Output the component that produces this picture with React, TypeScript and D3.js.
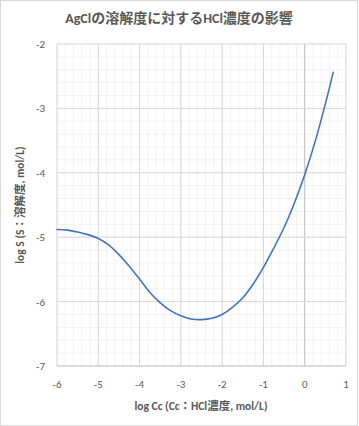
import React from "react";
import * as d3 from "d3";

const logCc = [-6, -5.75, -5.5, -5.25, -5, -4.75, -4.5, -4.25, -4, -3.75, -3.5, -3.25, -3, -2.75, -2.5, -2.25, -2, -1.75, -1.5, -1.25, -1, -0.75, -0.5, -0.25, 0, 0.25, 0.5, 0.69];
const logS = [-4.88, -4.89, -4.92, -4.96, -5.02, -5.12, -5.27, -5.45, -5.65, -5.86, -6.02, -6.14, -6.22, -6.27, -6.28, -6.26, -6.2, -6.09, -5.94, -5.73, -5.47, -5.17, -4.85, -4.47, -4.03, -3.52, -2.93, -2.44];
const xTicks = [-6, -5, -4, -3, -2, -1, 0, 1];
const yTicks = [-7, -6, -5, -4, -3, -2];
const title = "AgClの溶解度に対するHCl濃度の影響";
const xTitle = "log Cc (Cc：HCl濃度, mol/L)";
const yTitle = "log S (S：溶解度, mol/L)";

export default function App() {
  const W = 359, H = 426;
  const m = { l: 57, r: 346, t: 44, b: 366 };
  const x = d3.scaleLinear().domain([-6, 1]).range([m.l, m.r]);
  const y = d3.scaleLinear().domain([-7, -2]).range([m.b, m.t]);
  const minorX = d3.range(-6, 1.0001, 0.2);
  const minorY = d3.range(-7, -1.9999, 0.2);
  const pts = logCc.map((v, i) => [v, logS[i]] as [number, number]);
  const line = d3.line<[number, number]>().x(d => x(d[0])).y(d => y(d[1])).curve(d3.curveCatmullRom.alpha(0.5));
  const font = "Calibri, 'Noto Sans CJK JP', 'Noto Sans', sans-serif";
  return (
    <svg width={W} height={H} style={{ position: "absolute", left: 0, top: 0, fontFamily: font }}>
      <rect x={0.5} y={0.5} width={357} height={425} fill="#fff" stroke="#d9d9d9" />
      {minorX.map((v, i) => (
        <line key={"mx" + i} x1={x(v)} x2={x(v)} y1={m.t} y2={m.b} stroke="#f2f2f2" />
      ))}
      {minorY.map((v, i) => (
        <line key={"my" + i} x1={m.l} x2={m.r} y1={y(v)} y2={y(v)} stroke="#f2f2f2" />
      ))}
      {xTicks.map(v => (
        <line key={"gx" + v} x1={x(v)} x2={x(v)} y1={m.t} y2={m.b} stroke={v === 0 ? "#bfbfbf" : "#d9d9d9"} />
      ))}
      {yTicks.map(v => (
        <line key={"gy" + v} x1={m.l} x2={m.r} y1={y(v)} y2={y(v)} stroke={v === -7 ? "#bfbfbf" : "#d9d9d9"} />
      ))}
      <path d={line(pts) || ""} fill="none" stroke="#4472c4" strokeWidth={1.6} strokeLinejoin="round" strokeLinecap="round" />
      {xTicks.map(v => (
        <text key={"tx" + v} x={x(v)} y={388} textAnchor="middle" fontSize={11} fill="#595959">{v}</text>
      ))}
      {yTicks.map(v => (
        <text key={"ty" + v} x={45} y={y(v) + 4} textAnchor="end" fontSize={11} fill="#595959">{v}</text>
      ))}
      <text x={179} y={23} textAnchor="middle" fontSize={14} fontWeight="bold" fill="#595959">{title}</text>
      <text x={201} y={410} textAnchor="middle" fontSize={11.5} fontWeight="bold" fill="#595959">{xTitle}</text>
      <text transform={`translate(24,${(m.t + m.b) / 2}) rotate(-90)`} textAnchor="middle" fontSize={11.5} fontWeight="bold" fill="#595959">{yTitle}</text>
    </svg>
  );
}
